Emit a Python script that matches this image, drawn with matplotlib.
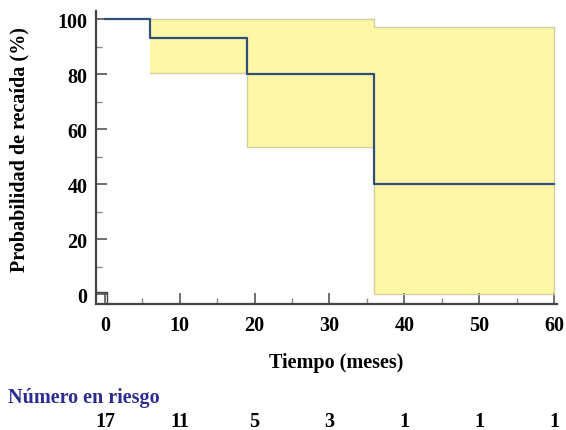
import numpy as np
import matplotlib
matplotlib.use("Agg")
from matplotlib import pyplot as plt

# Kaplan-Meier estimate (step values after each time point)
time_km = [0, 6, 19, 36, 60]
surv_km = [100, 93.3, 80, 40, 40]

# Confidence band (starts at first event)
time_ci = [6, 19, 36, 60]
upper_ci = [100, 100, 97.3, 97.3]
lower_ci = [80.6, 53.7, 0, 0]

# Number at risk
risk_times = [0, 10, 20, 30, 40, 50, 60]
risk_counts = [17, 11, 5, 3, 1, 1, 1]

plt.rcParams['font.family'] = ['Liberation Serif', 'DejaVu Serif']
plt.rcParams['font.weight'] = 'bold'

fig = plt.figure(figsize=(5.66, 4.31), dpi=100)
ax = fig.add_axes([0.1696, 0.2923, 0.8144, 0.6797])

band_col = '#fff7a6'
edge_col = '#cfcfa0'
line_col = '#2f4f7c'

ax.fill_between(time_ci, lower_ci, upper_ci, step='post', color=band_col, lw=0, zorder=1)
ax.step(time_ci, upper_ci, where='post', color=edge_col, lw=1, zorder=2)
ax.step(time_ci, lower_ci, where='post', color=edge_col, lw=1, zorder=2)
ax.vlines(time_ci[-1], lower_ci[-1], upper_ci[-1], color=edge_col, lw=1, zorder=2)
ax.step(time_km, surv_km, where='post', color=line_col, lw=1.6, zorder=3)

# small box at the origin
ax.plot([-1.2, 0.3, 0.3], [1.0, 1.0, -3.5], color='#444444', lw=1, zorder=3, clip_on=False)

ax.set_xlim(-1.2, 60.4)
ax.set_ylim(-3.5, 103)
ax.set_xticks(np.arange(0, 61, 10))
ax.set_xticks(np.arange(5, 60, 10), minor=True)
ax.set_yticks(np.arange(0, 101, 20))
ax.set_yticks(np.arange(10, 100, 20), minor=True)

for s in ['top', 'right']:
    ax.spines[s].set_visible(False)
for s in ['left', 'bottom']:
    ax.spines[s].set_color('#444444')
    ax.spines[s].set_linewidth(1.6)

ax.tick_params(which='major', direction='in', length=8, width=1.2, color='#555555',
               labelsize=14.5, pad=6)
ax.tick_params(which='minor', direction='in', length=4, width=1, color='#888888')
ax.tick_params(axis='x', which='major', pad=8)

ax.set_xlabel('Tiempo (meses)', fontsize=14.5, fontweight='bold', va='center')
ax.set_ylabel('Probabilidad de recaída (%)', fontsize=14.5, fontweight='bold', va='center')
ax.xaxis.set_label_coords(0.52, -0.198)
ax.yaxis.set_label_coords(-0.165, 0.53)

fig.text(8 / 566, 1 - 398 / 431, 'Número en riesgo', color='#2b2b90', fontsize=14.5,
         fontweight='bold', va='center', ha='left')
for t, n in zip(risk_times, risk_counts):
    xf = ax.transData.transform((t, 0))[0] / fig.bbox.width
    fig.text(xf, 1 - 422 / 431, str(n), fontsize=14.5, fontweight='bold', ha='center', va='center')

fig.savefig('out.png', dpi=100)
